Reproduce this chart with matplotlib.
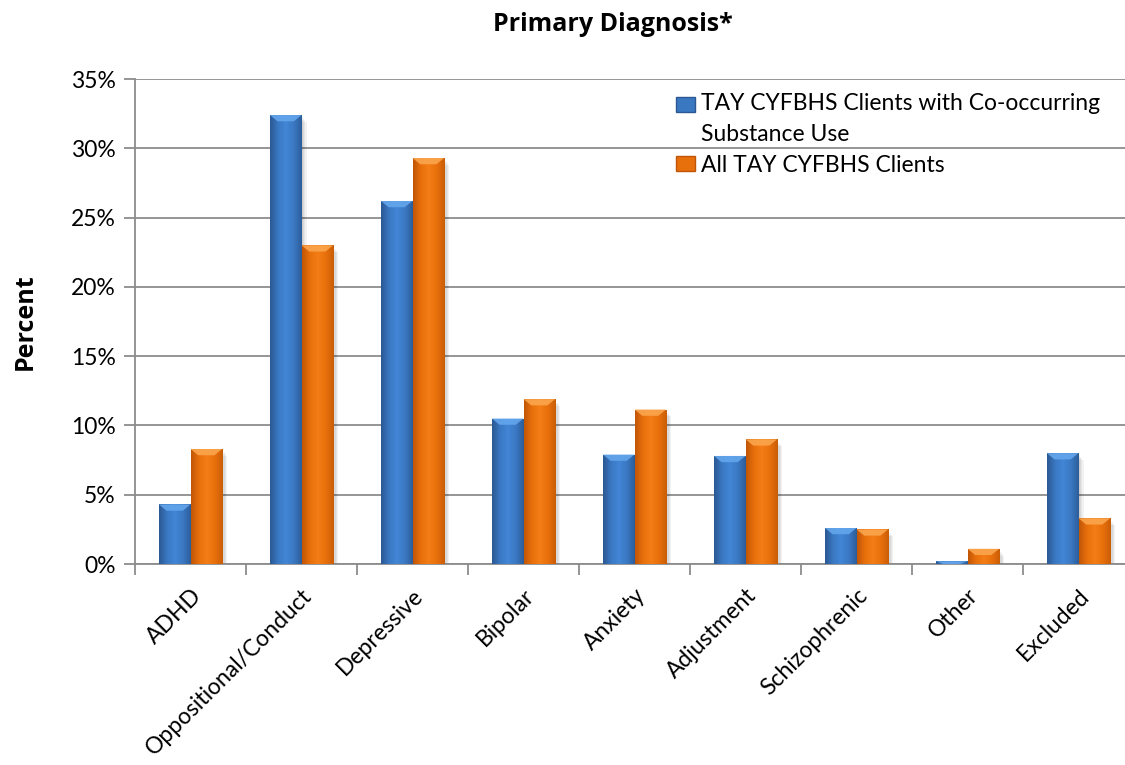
import numpy as np
import matplotlib
matplotlib.use("Agg")
import matplotlib.pyplot as plt
from matplotlib.patches import Rectangle, Polygon
from matplotlib.colors import LinearSegmentedColormap
from matplotlib.ticker import FuncFormatter, MultipleLocator, FixedLocator
from matplotlib.legend_handler import HandlerPatch

plt.rcParams['font.family'] = ['Lato', 'DejaVu Sans']

categories = ["ADHD", "Oppositional/Conduct", "Depressive", "Bipolar", "Anxiety",
              "Adjustment", "Schizophrenic", "Other", "Excluded"]
co_occurring = [4.3, 32.4, 26.2, 10.5, 7.9, 7.8, 2.6, 0.2, 8.0]
all_clients = [8.3, 23.0, 29.3, 11.9, 11.15, 9.0, 2.5, 1.1, 3.3]
series_labels = ["TAY CYFBHS Clients with Co-occurring\nSubstance Use", "All TAY CYFBHS Clients"]
title = "Primary Diagnosis*"
ylabel = "Percent"

# colour ramps: dark edge -> light centre -> dark edge
blue_ramp = ["#2b5892", "#3a78c2", "#4286d6", "#3a78c2", "#2d5d9a"]
orange_ramp = ["#c05507", "#e8700c", "#f57d16", "#e8700c", "#c95d07"]
blue_top, orange_top = "#64a6ec", "#fba64e"
blue_cmap = LinearSegmentedColormap.from_list("bluebar", blue_ramp)
orange_cmap = LinearSegmentedColormap.from_list("orangebar", orange_ramp)

FS = 16.5
BOLD_FONT = ['Open Sans', 'DejaVu Sans']
BFS = 18

fig = plt.figure(figsize=(11.25, 7.65), dpi=100)
ax = fig.add_axes([0.12, 0.2627, 0.888, 0.634])

ax.set_xlim(-0.5, len(categories) - 0.5)
ax.set_ylim(0, 35)

grid_c = "#8c8c8c"
ax.yaxis.set_major_locator(MultipleLocator(5))
ax.yaxis.set_major_formatter(FuncFormatter(lambda v, p: f"{v:.0f}%"))
ax.grid(axis="y", color=grid_c, linewidth=1.3, zorder=0)
ax.set_axisbelow(True)
for s in ["top", "right"]:
    ax.spines[s].set_visible(False)
for s in ["left", "bottom"]:
    ax.spines[s].set_color(grid_c)
    ax.spines[s].set_linewidth(1.3)

width = 0.285
grad = np.linspace(0, 1, 256).reshape(1, -1)
bevel_h = 0.45   # depth of the top bevel in percent units
bevel_in = 0.07  # horizontal inset of the bevel


def draw_bar(x0, h, cmap, top_col):
    if h <= 0:
        return
    # soft drop shadow
    for k in range(4):
        off = 0.012 * (k + 1)
        ax.add_patch(Rectangle((x0 + off, -0.125 * (k + 1)), width, h,
                               facecolor="#000000", alpha=0.05, edgecolor="none", zorder=2))
    rect = Rectangle((x0, 0), width, h, facecolor="none", edgecolor="none", zorder=3)
    ax.add_patch(rect)
    im = ax.imshow(grad, cmap=cmap, aspect="auto", extent=(x0, x0 + width, 0, h),
                   zorder=3, interpolation="bilinear")
    im.set_clip_path(rect)
    bh = min(bevel_h, h)
    bi = min(bevel_in, width / 2)
    ax.add_patch(Polygon([(x0, h), (x0 + width, h), (x0 + width - bi, h - bh), (x0 + bi, h - bh)],
                         closed=True, facecolor=top_col, edgecolor="none", zorder=4, alpha=0.9))


xs = np.arange(len(categories))
for i, (a, b) in enumerate(zip(co_occurring, all_clients)):
    draw_bar(xs[i] - width, a, blue_cmap, blue_top)
    draw_bar(xs[i], b, orange_cmap, orange_top)

ax.set_aspect("auto")
ax.set_xlim(-0.5, len(categories) - 0.5)
ax.set_ylim(0, 35)

# ticks: category labels at centres, tick marks at boundaries
ax.set_xticks(xs)
ax.set_xticklabels(categories, rotation=45, ha="right", rotation_mode="anchor", fontsize=FS)
ax.tick_params(axis="x", which="major", length=0, pad=15)
ax.xaxis.set_minor_locator(FixedLocator(np.arange(-0.5, len(categories), 1.0)))
ax.tick_params(axis="x", which="minor", length=8, color=grid_c, width=1.3, direction="out")
ax.tick_params(axis="y", which="major", length=8, color=grid_c, width=1.3, labelsize=FS, pad=6)

ax.set_ylabel(ylabel, fontsize=BFS, fontweight="bold", family=BOLD_FONT, labelpad=24)
fig.text(0.545, 1 - 31 / 765, title, ha="center", va="baseline", fontsize=BFS,
         fontweight="bold", family=BOLD_FONT)


class RaisedPatchHandler(HandlerPatch):
    """Legend key lifted so it sits beside the first line of a two-line label."""

    def __init__(self, shift=0.0, **kw):
        super().__init__(**kw)
        self.shift = shift

    def create_artists(self, legend, orig_handle, xdescent, ydescent, width, height,
                       fontsize, trans):
        p = Rectangle((-xdescent, -ydescent + self.shift * fontsize), width, height)
        self.update_prop(p, orig_handle, legend)
        p.set_transform(trans)
        return [p]


h_blue = Rectangle((0, 0), 1, 1, facecolor=blue_ramp[1], edgecolor=blue_ramp[0])
h_orange = Rectangle((0, 0), 1, 1, facecolor=orange_ramp[1], edgecolor=orange_ramp[0])
leg = ax.legend([h_blue, h_orange], series_labels, loc="upper left",
                bbox_to_anchor=(667 / 1125, 1 - 84 / 765), bbox_transform=fig.transFigure,
                frameon=False, fontsize=FS, handlelength=0.8, handleheight=0.65,
                handletextpad=0.3, labelspacing=0.45, borderaxespad=0,
                handler_map={h_blue: RaisedPatchHandler(shift=0.65),
                             h_orange: RaisedPatchHandler(shift=0.0)})
for t in leg.get_texts():
    t.set_linespacing(1.55)

fig.savefig("out.png", dpi=100, facecolor="white")
